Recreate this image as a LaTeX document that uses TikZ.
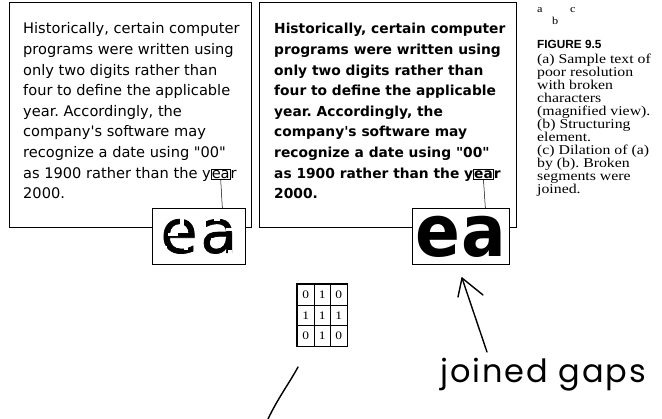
\documentclass[tikz,border=0pt]{standalone}
\usepackage{fontspec}
\setmainfont{DejaVu Sans}
\newfontfamily\panelfont{DejaVu Sans}
\newfontfamily\brokenfont[FakeBold=1.2]{DejaVu Sans}
\newfontfamily\capfont[FakeStretch=1.17]{Liberation Serif}
\newfontfamily\figfont{Liberation Sans}
\newfontfamily\handfont[LetterSpace=6]{Poppins}
\usetikzlibrary{matrix,calc}
\frenchspacing
\begin{document}
\begin{tikzpicture}[x=1pt,y=-1pt,
  panel/.style={draw, line width=0.8pt, inner sep=0pt, anchor=north west},
  txta/.style={anchor=base west, inner sep=0pt, font=\panelfont\fontsize{14.6}{17}\selectfont},
  txtc/.style={anchor=base west, inner sep=0pt, font=\panelfont\bfseries\fontsize{13.8}{17}\selectfont},
  eabox/.style={anchor=base west, draw, line width=0.5pt, inner xsep=0.5pt, inner ysep=1.2pt},
  inset/.style={draw, fill=white, line width=0.8pt, inner sep=0pt, anchor=north west},
  cut/.style={fill=white, draw=none},
  capt/.style={anchor=base west, inner sep=0pt, font=\capfont\fontsize{13.5}{13}\selectfont},
  hand/.style={line width=1.4pt, line cap=round, line join=round}
]
\useasboundingbox (0,0) rectangle (662,419);

% ---------- panel a ----------
\node[panel, minimum width=242, minimum height=225] (pa) at (9,2) {};
\node[txta] (a1) at (23,34) {Historically, certain computer};
\node[txta] (a2) at (23,54.6) {programs were written using};
\node[txta] (a3) at (23,75.2) {only two digits rather than};
\node[txta] (a4) at (23,95.8) {four to define the applicable};
\node[txta] (a5) at (23,116.4) {year. Accordingly, the};
\node[txta] (a6) at (23,137) {company's software may};
\node[txta] (a7) at (23,157.6) {recognize a date using "00"};
\node[txta] (a8) at (23,178.2) {as 1900 rather than the y};
\node[eabox, font=\panelfont\fontsize{14.6}{17}\selectfont] (aea) at (a8.base east) {ea};
\node[txta] (a8r) at (aea.base east) {r};
\node[txta] (a9) at (23,198.8) {2000.};

% ---------- panel c ----------
\node[panel, minimum width=257, minimum height=225] (pc) at (259,2) {};
\node[txtc] (c1) at (274,34) {Historically, certain computer};
\node[txtc] (c2) at (274,54.6) {programs were written using};
\node[txtc] (c3) at (274,75.2) {only two digits rather than};
\node[txtc] (c4) at (274,95.8) {four to define the applicable};
\node[txtc] (c5) at (274,116.4) {year. Accordingly, the};
\node[txtc] (c6) at (274,137) {company's software may};
\node[txtc] (c7) at (274,157.6) {recognize a date using "00"};
\node[txtc] (c8) at (274,178.2) {as 1900 rather than the y};
\node[eabox, font=\panelfont\bfseries\fontsize{13.8}{17}\selectfont] (cea) at (c8.base east) {ea};
\node[txtc] (c8r) at (cea.base east) {r};
\node[txtc] (c9) at (274,198.8) {2000.};

% ---------- inset a (broken) ----------
\node[inset, minimum width=93, minimum height=56] (insA) at (152,208) {};
\node[inner sep=0pt, font=\brokenfont\fontsize{60}{60}\selectfont] (glA) at (insA.center) {e\kern3pt a};
\fill[cut] (180,214) rectangle (184,226);
\fill[cut] (168,233) rectangle (178,236);
\fill[cut] (184,245) rectangle (188,250);
\fill[cut] (163,246) rectangle (167,249);
\fill[cut] (214,216) rectangle (220,221);
\fill[cut] (211,238) rectangle (216,246);
\fill[cut] (228,250) rectangle (232,256);
\fill[cut] (226,228) rectangle (232,231);
\draw[line width=0.5pt] (aea.south) -- ($(insA.north west)!0.75!(insA.north east)$);

% ---------- inset c (dilated) ----------
\node[inset, minimum width=97, minimum height=56] (insC) at (412,208) {};
\node[inner sep=0pt, font=\panelfont\bfseries\fontsize{72}{72}\selectfont, xscale=0.92] (glC) at (insC.center) {e\kern2pt a};
\draw[line width=0.5pt] (cea.south) -- ($(insC.north west)!0.75!(insC.north east)$);

% ---------- caption ----------
\node[capt, font=\capfont\fontsize{10.5}{10}\selectfont] (la) at (537,13) {a};
\node[capt, font=\capfont\fontsize{10.5}{10}\selectfont] (lc) at (570,13) {c};
\node[capt, font=\capfont\fontsize{10.5}{10}\selectfont] (lb) at (552,25) {b};
\node[anchor=base west, inner sep=0pt, font=\figfont\bfseries\fontsize{11.8}{12}\selectfont] (fig) at (537,49) {FIGURE 9.5};
\node[capt] (k1) at (537,64) {(a) Sample text of};
\node[capt] (k2) at (537,77) {poor resolution};
\node[capt] (k3) at (537,90) {with broken};
\node[capt] (k4) at (537,103) {characters};
\node[capt] (k5) at (537,116) {(magnified view).};
\node[capt] (k6) at (537,129) {(b) Structuring};
\node[capt] (k7) at (537,142) {element.};
\node[capt] (k8) at (537,155) {(c) Dilation of (a)};
\node[capt] (k9) at (537,168) {by (b). Broken};
\node[capt] (k10) at (537,181) {segments were};
\node[capt] (k11) at (537,194) {joined.};

% ---------- structuring element ----------
\matrix (se) [matrix of nodes, anchor=north west, inner sep=0pt,
  column sep=-0.5pt, row sep=-0.5pt,
  nodes={draw, line width=0.5pt, minimum width=16.5, minimum height=20.5, inner sep=0pt,
         font=\capfont\fontsize{11.5}{11}\selectfont}] at (297,284) {
  0 & 1 & 0 \\
  1 & 1 & 1 \\
  0 & 1 & 0 \\
};
\draw[line width=1.1pt] (se.north west) rectangle (se.south east);

% ---------- hand drawn marks ----------
\coordinate (h1) at (298,367);
\coordinate (h2) at (268,419);
\draw[hand] (h1) .. controls (290,382) and (278,398) .. (h2);

\node[anchor=base, inner sep=0pt, font=\handfont\fontsize{32}{32}\selectfont] (jg) at (543,383) {joined gaps};
\coordinate (tail) at (487,352);
\coordinate (tip) at (462,278);
\coordinate (armL) at (458,297);
\coordinate (armR) at (483,295);
\draw[hand] (tail) -- (tip);
\draw[hand] (armL) -- (tip) -- (armR);
\end{tikzpicture}
\end{document}
